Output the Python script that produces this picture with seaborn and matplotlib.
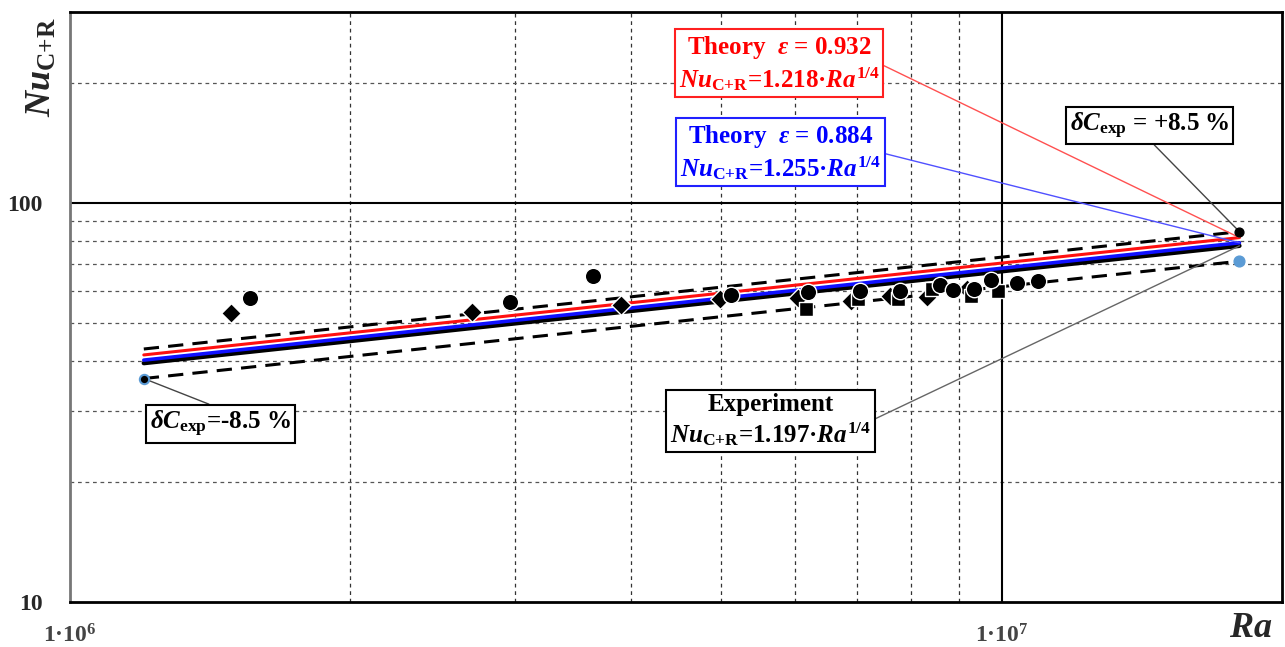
import numpy as np
import pandas as pd
import matplotlib.pyplot as plt
import seaborn as sns

circle_ra = [1.56e6, 2.97e6, 3.64e6, 5.12e6, 6.19e6, 7.04e6, 7.77e6, 8.58e6,
             8.86e6, 9.35e6, 9.73e6, 1.04e7, 1.093e7]
circle_nu = [57.8, 56.5, 65.6, 58.8, 59.8, 60.1, 60.1, 62.2, 60.5, 60.8, 64.1, 63.0, 63.7]
diamond_ra = [1.49e6, 2.70e6, 3.90e6, 4.99e6, 6.04e6, 6.90e6, 7.58e6, 8.31e6, 9.17e6]
diamond_nu = [53.0, 53.3, 55.5, 57.4, 57.8, 56.8, 58.4, 57.9, 60.8]
square_ra = [6.17e6, 7.01e6, 7.74e6, 8.41e6, 9.28e6, 9.90e6]
square_nu = [54.2, 57.4, 57.4, 60.8, 58.4, 60.1]

# correlations Nu = C * Ra^(1/4)
fit_ra = np.array([1.2e6, 1.8e7])
c_exp = 1.197
c_red = 1.255
c_blue = 1.218
band = 0.085

x_ticks = [1e6, 1e7]
x_labels = [r"1·10$^{\mathrm{6}}$", r"1·10$^{\mathrm{7}}$"]
y_ticks = [10, 100]
y_labels = ["10", "100"]
x_minor = [2e6, 3e6, 4e6, 5e6, 6e6, 7e6, 8e6, 9e6]
y_minor = [20, 30, 40, 50, 60, 70, 80, 90, 200]

sns.set_style("white")
plt.rcParams['font.family'] = ['Liberation Serif', 'DejaVu Serif']
plt.rcParams['font.weight'] = 'bold'
plt.rcParams['mathtext.fontset'] = 'custom'
plt.rcParams['mathtext.rm'] = 'Liberation Serif:bold'
plt.rcParams['mathtext.it'] = 'Liberation Serif:bold:italic'
plt.rcParams['mathtext.bf'] = 'Liberation Serif:bold'

fig = plt.figure(figsize=(12.85, 6.47), dpi=100)
ax = fig.add_axes([0.0545, 0.070, 0.9432, 0.911])
ax.set_xscale('log')
ax.set_yscale('log')
ax.set_xlim(1e6, 2e7)
ax.set_ylim(10, 300)

# grid
for v in x_minor:
    ax.axvline(v, color='#333333', lw=0.9, ls=(0, (3, 3)), zorder=0)
for v in y_minor:
    ax.axhline(v, color='#555555', lw=0.9, ls=(0, (3, 3)), zorder=0)
ax.axvline(1e7, color='black', lw=1.5, zorder=0)
ax.axhline(100, color='black', lw=1.5, zorder=0)

# lines
nu_exp = c_exp * fit_ra ** 0.25
nu_hi = nu_exp * (1 + band)
nu_lo = nu_exp * (1 - band)
nu_red = c_red * fit_ra ** 0.25
nu_blue = c_blue * fit_ra ** 0.25
sns.lineplot(x=fit_ra, y=nu_hi, color='black', lw=2.2, ls=(0, (5, 3)), ax=ax)
sns.lineplot(x=fit_ra, y=nu_lo, color='black', lw=2.2, ls=(0, (5, 3)), ax=ax)
sns.lineplot(x=fit_ra, y=nu_exp, color='black', lw=3.2, ax=ax)
sns.lineplot(x=fit_ra, y=nu_blue, color='#1010ff', lw=2.6, ax=ax)
sns.lineplot(x=fit_ra, y=nu_red, color='#ff1010', lw=2.2, ax=ax)

# markers
sns.scatterplot(x=diamond_ra, y=diamond_nu, marker='D', s=100, color='black',
                edgecolor='white', linewidth=1, ax=ax, zorder=4)
sns.scatterplot(x=square_ra, y=square_nu, marker='s', s=90, color='black',
                edgecolor='white', linewidth=1, ax=ax, zorder=4)
sns.scatterplot(x=circle_ra, y=circle_nu, marker='o', s=140, color='black',
                edgecolor='white', linewidth=1, ax=ax, zorder=5)

# band end points
ax.scatter([fit_ra[0]], [nu_lo[0]], s=45, color='black', edgecolor='#5b9bd5', lw=1.5, zorder=6)
ax.scatter([fit_ra[1]], [nu_lo[1]], s=60, color='#5b9bd5', zorder=6)
ax.scatter([fit_ra[1]], [nu_hi[1]], s=40, color='black', zorder=6)

# callouts
box_kw = dict(fontsize=18, fontweight='bold', ha='center', va='center',
              multialignment='center', xycoords='data', textcoords='axes fraction')
nu_lbl = r"$\mathit{Nu}_{\mathrm{C{+}R}}$"
ra_lbl = r"$\mathit{Ra}^{\mathrm{1/4}}$"

ax.annotate("Theory  $\\mathit{ε}$ = 0.932\n" + nu_lbl + "=1.218·" + ra_lbl,
            xy=(fit_ra[1], nu_red[1]), xytext=(0.585, 0.913), color='#ff0000',
            bbox=dict(boxstyle='square,pad=0.15', fc='white', ec='#ff2020', lw=1.5),
            arrowprops=dict(arrowstyle='-', color='#ff5050', lw=1, shrinkA=0, shrinkB=0,
                            relpos=(1, 0.5)), **box_kw)
ax.annotate("Theory  $\\mathit{ε}$ = 0.884\n" + nu_lbl + "=1.255·" + ra_lbl,
            xy=(fit_ra[1], nu_blue[1]), xytext=(0.586, 0.762), color='#0000ff',
            bbox=dict(boxstyle='square,pad=0.15', fc='white', ec='#2020ff', lw=1.5),
            arrowprops=dict(arrowstyle='-', color='#5050ff', lw=1, shrinkA=0, shrinkB=0,
                            relpos=(1, 0.5)), **box_kw)
ax.annotate("Experiment\n" + nu_lbl + "=1.197·" + ra_lbl,
            xy=(fit_ra[1], nu_exp[1]), xytext=(0.578, 0.307), color='black',
            bbox=dict(boxstyle='square,pad=0.15', fc='white', ec='black', lw=1.5),
            arrowprops=dict(arrowstyle='-', color='#666666', lw=1, shrinkA=0, shrinkB=0,
                            relpos=(1, 0.5)), **box_kw)
ax.annotate(r"$\mathit{δC}_{\mathrm{exp}}$ = +8.5 %",
            xy=(fit_ra[1], nu_hi[1]), xytext=(0.891, 0.808), color='black',
            bbox=dict(boxstyle='square,pad=0.15', fc='white', ec='black', lw=1.5),
            arrowprops=dict(arrowstyle='-', color='#444444', lw=1, shrinkA=0, shrinkB=0,
                            relpos=(0.5, 0)), **box_kw)
ax.annotate(r"$\mathit{δC}_{\mathrm{exp}}$=-8.5 %",
            xy=(fit_ra[0], nu_lo[0]), xytext=(0.124, 0.302), color='black',
            bbox=dict(boxstyle='square,pad=0.15', fc='white', ec='black', lw=1.5),
            arrowprops=dict(arrowstyle='-', color='#444444', lw=1, shrinkA=0, shrinkB=0,
                            relpos=(0.5, 1)), **box_kw)

# ticks
ax.xaxis.set_minor_locator(plt.NullLocator())
ax.yaxis.set_minor_locator(plt.NullLocator())
ax.set_xticks(x_ticks)
ax.set_xticklabels(x_labels, fontsize=17, fontweight='bold', color='#444444')
ax.set_yticks(y_ticks)
ax.set_yticklabels(y_labels, fontsize=17, fontweight='bold')
ax.tick_params(axis='x', length=0, pad=16)
ax.tick_params(axis='y', length=0, pad=20)

for side in ['top', 'right', 'bottom']:
    ax.spines[side].set_color('black')
    ax.spines[side].set_linewidth(2)
ax.spines['left'].set_color('#777777')
ax.spines['left'].set_linewidth(2)

fig.text(0.033, 0.896, nu_lbl, rotation=90, fontsize=26, ha='center', va='center')
fig.text(0.973, 0.028, r"$\mathit{Ra}$", fontsize=26, ha='center', va='center')

fig.savefig('out.png', dpi=100)
